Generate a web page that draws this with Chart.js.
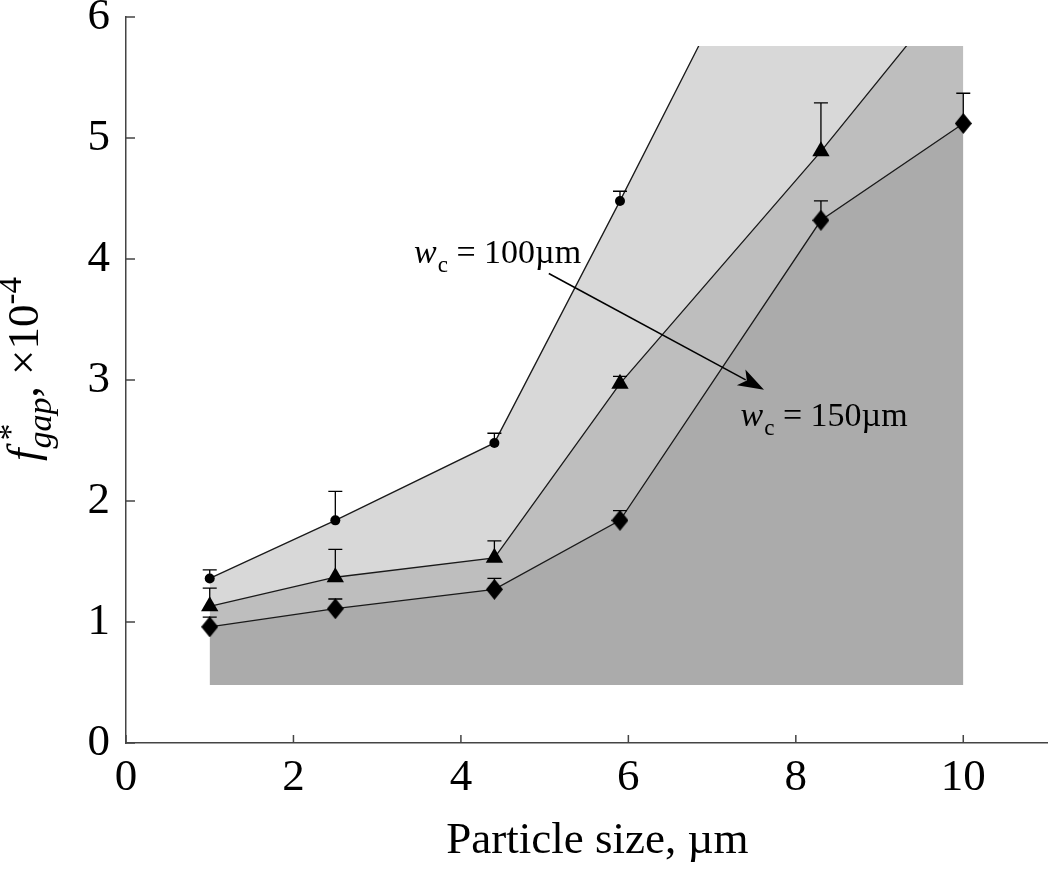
<!DOCTYPE html>
<html>
<head>
<meta charset="utf-8">
<script src="https://cdn.jsdelivr.net/npm/chart.js@4.4.0/dist/chart.umd.min.js"></script>
<style>
  html, body { margin:0; padding:0; background:#fff; }
  canvas { display:block; }
</style>
</head>
<body>
<canvas id="chart" width="1050" height="872"></canvas>
<script>
// Data (x in um, y in units of 1e-4)
const particleSize = [1, 2.5, 4.4, 5.9, 8.3, 10];

const circleVals   = [1.36, 1.84, 2.48, 4.48, 7.75, 9.1];
const circleErr    = [1.43, 2.08, 2.56, 4.56, null, null];

const triangleVals = [1.13, 1.37, 1.53, 2.97, 4.89, 6.34];
const triangleErr  = [1.28, 1.60, 1.67, 3.03, 5.29, null];

const diamondVals  = [0.96, 1.11, 1.27, 1.84, 4.32, 5.12];
const diamondErr   = [1.04, 1.19, 1.36, 1.92, 4.48, 5.37];

const xTickValues = [0, 2, 4, 6, 8, 10];
const yTickValues = [0, 1, 2, 3, 4, 5, 6];

// shaded band limits
const FILL_BASE = 0.48;
const FILL_TOP = 5.76;

const SERIF = 'Liberation Serif';

function toPoints(vals){
    return particleSize.map((x,i)=>({x:x, y:vals[i]}));
}

// slightly narrow diamond marker
function diamondImg(w, h){
    const c = document.createElement('canvas');
    c.width = w; c.height = h;
    const g = c.getContext('2d');
    g.fillStyle = '#000';
    g.beginPath();
    g.moveTo(w/2, 0); g.lineTo(w, h/2); g.lineTo(w/2, h); g.lineTo(0, h/2);
    g.closePath(); g.fill();
    return c;
}

const seriesList = [
    {vals: diamondVals,  err: diamondErr},
    {vals: triangleVals, err: triangleErr},
    {vals: circleVals,   err: circleErr}
];

// draw text pieces one after another
function drawPieces(ctx, pieces, x, y){
    let cx = x;
    pieces.forEach(p=>{
        ctx.font = (p.italic ? 'italic ' : '') + p.size + 'px "' + SERIF + '"';
        ctx.fillText(p.t, cx + (p.dx||0), y + (p.dy||0));
        if(!p.noAdvance) cx += ctx.measureText(p.t).width + (p.dx||0);
    });
    return cx - x;
}
function measurePieces(ctx, pieces){
    let w = 0;
    pieces.forEach(p=>{
        ctx.font = (p.italic ? 'italic ' : '') + p.size + 'px "' + SERIF + '"';
        if(!p.noAdvance) w += ctx.measureText(p.t).width + (p.dx||0);
    });
    return w;
}

const figPlugin = {
    id: 'figPlugin',
    beforeDatasetsDraw(chart){
        const {ctx, chartArea, scales:{y}} = chart;
        const top = y.getPixelForValue(FILL_TOP);
        ctx.save();
        ctx.beginPath();
        ctx.rect(chartArea.left, top, chartArea.right - chartArea.left, chartArea.bottom - top);
        ctx.clip();
    },
    afterDatasetsDraw(chart){
        const {ctx, scales:{x, y}} = chart;
        ctx.restore();

        // upper error bars
        ctx.save();
        ctx.strokeStyle = '#000';
        ctx.lineWidth = 1.3;
        seriesList.forEach(s=>{
            particleSize.forEach((px, i)=>{
                if(s.err[i] == null) return;
                const xp = x.getPixelForValue(px);
                const y0 = y.getPixelForValue(s.vals[i]);
                const y1 = y.getPixelForValue(s.err[i]);
                ctx.beginPath();
                ctx.moveTo(xp, y0); ctx.lineTo(xp, y1);
                ctx.moveTo(xp - 7, y1); ctx.lineTo(xp + 7, y1);
                ctx.stroke();
            });
        });
        ctx.restore();
    },
    afterDraw(chart){
        const {ctx, chartArea, scales:{x, y}} = chart;
        ctx.save();

        // inward tick marks
        ctx.strokeStyle = '#444';
        ctx.lineWidth = 1.5;
        ctx.beginPath();
        xTickValues.forEach(v=>{
            const p = x.getPixelForValue(v);
            ctx.moveTo(p, chartArea.bottom); ctx.lineTo(p, chartArea.bottom - 8);
        });
        yTickValues.forEach(v=>{
            const p = y.getPixelForValue(v);
            ctx.moveTo(chartArea.left, p); ctx.lineTo(chartArea.left + 9, p);
        });
        ctx.stroke();

        ctx.fillStyle = '#000';
        ctx.textBaseline = 'alphabetic';

        // x axis title
        ctx.font = '45px "' + SERIF + '"';
        ctx.textAlign = 'center';
        ctx.fillText('Particle size, \u00b5m', x.getPixelForValue(5.63), 853);
        ctx.textAlign = 'left';

        // y axis title (rotated)
        const yPieces = [
            {t:'f', size:45, italic:true},
            {t:'*', size:34, dy:-17, dx:8, noAdvance:true},
            {t:'gap', size:34, italic:true, dy:13},
            {t:',', size:45},
            {t:' \u00d710', size:45},
            {t:'-4', size:33, dy:-17}
        ];
        const tw = measurePieces(ctx, yPieces);
        ctx.save();
        ctx.translate(38, (chartArea.top + chartArea.bottom)/2 - 11);
        ctx.rotate(-Math.PI/2);
        drawPieces(ctx, yPieces, -tw/2, 0);
        ctx.restore();

        // annotations
        const label = (val, xv, yv)=>{
            drawPieces(ctx, [
                {t:'w', size:34, italic:true},
                {t:'c', size:23, dy:9, dx:1},
                {t:' = ' + val + '\u00b5m', size:34}
            ], x.getPixelForValue(xv), y.getPixelForValue(yv));
        };
        label('100', 3.44, 3.97);
        label('150', 7.34, 2.62);

        // arrow
        const ax0 = x.getPixelForValue(5.05), ay0 = y.getPixelForValue(3.88);
        const ax1 = x.getPixelForValue(7.62), ay1 = y.getPixelForValue(2.92);
        const ang = Math.atan2(ay1 - ay0, ax1 - ax0);
        const hl = 26, hw = 9;
        ctx.strokeStyle = '#000';
        ctx.lineWidth = 1.5;
        ctx.beginPath();
        ctx.moveTo(ax0, ay0);
        ctx.lineTo(ax1 - Math.cos(ang)*hl*0.8, ay1 - Math.sin(ang)*hl*0.8);
        ctx.stroke();
        ctx.beginPath();
        ctx.moveTo(ax1, ay1);
        ctx.lineTo(ax1 - Math.cos(ang)*hl - Math.sin(ang)*hw, ay1 - Math.sin(ang)*hl + Math.cos(ang)*hw);
        ctx.lineTo(ax1 - Math.cos(ang)*hl*0.75, ay1 - Math.sin(ang)*hl*0.75);
        ctx.lineTo(ax1 - Math.cos(ang)*hl + Math.sin(ang)*hw, ay1 - Math.sin(ang)*hl - Math.cos(ang)*hw);
        ctx.closePath();
        ctx.fill();

        ctx.restore();
    }
};

const lineCommon = {
    showLine: true,
    borderColor: '#1a1a1a',
    borderWidth: 1.3,
    tension: 0,
    pointBackgroundColor: '#000',
    pointBorderColor: '#000',
    pointBorderWidth: 0,
    fill: {value: FILL_BASE}
};

new Chart(document.getElementById('chart'), {
    type: 'scatter',
    data: {
        datasets: [
            Object.assign({}, lineCommon, {
                label: 'diamond',
                data: toPoints(diamondVals),
                backgroundColor: '#ababab',
                pointStyle: diamondImg(17, 21),
                pointRadius: 9
            }),
            Object.assign({}, lineCommon, {
                label: 'triangle',
                data: toPoints(triangleVals),
                backgroundColor: '#bebebe',
                pointStyle: 'triangle',
                pointRadius: 10
            }),
            Object.assign({}, lineCommon, {
                label: 'circle',
                data: toPoints(circleVals),
                backgroundColor: '#d8d8d8',
                pointStyle: 'circle',
                pointRadius: 5
            })
        ]
    },
    options: {
        responsive: false,
        animation: false,
        devicePixelRatio: 1,
        layout: {autoPadding: false, padding: {left: 0, top: 17, right: 3, bottom: 0}},
        plugins: {legend: {display: false}, tooltip: {enabled: false}},
        scales: {
            x: {
                type: 'linear', min: 0, max: 11,
                grid: {display: false, drawTicks: false},
                border: {display: true, color: '#444', width: 1.5},
                afterBuildTicks: s => { s.ticks = xTickValues.map(v=>({value: v})); },
                afterFit: s => { s.height = 129; s.paddingLeft = 0; s.paddingRight = 0; },
                ticks: {font: {family: SERIF, size: 45}, color: '#000', padding: 8, maxRotation: 0, autoSkip: false}
            },
            y: {
                type: 'linear', min: 0, max: 6,
                grid: {display: false, drawTicks: false},
                border: {display: true, color: '#444', width: 1.5},
                afterBuildTicks: s => { s.ticks = yTickValues.map(v=>({value: v})); },
                afterFit: s => { s.width = 126; s.paddingTop = 0; s.paddingBottom = 0; },
                ticks: {font: {family: SERIF, size: 45}, color: '#000', padding: 16, autoSkip: false}
            }
        }
    },
    plugins: [figPlugin]
});
</script>
</body>
</html>
